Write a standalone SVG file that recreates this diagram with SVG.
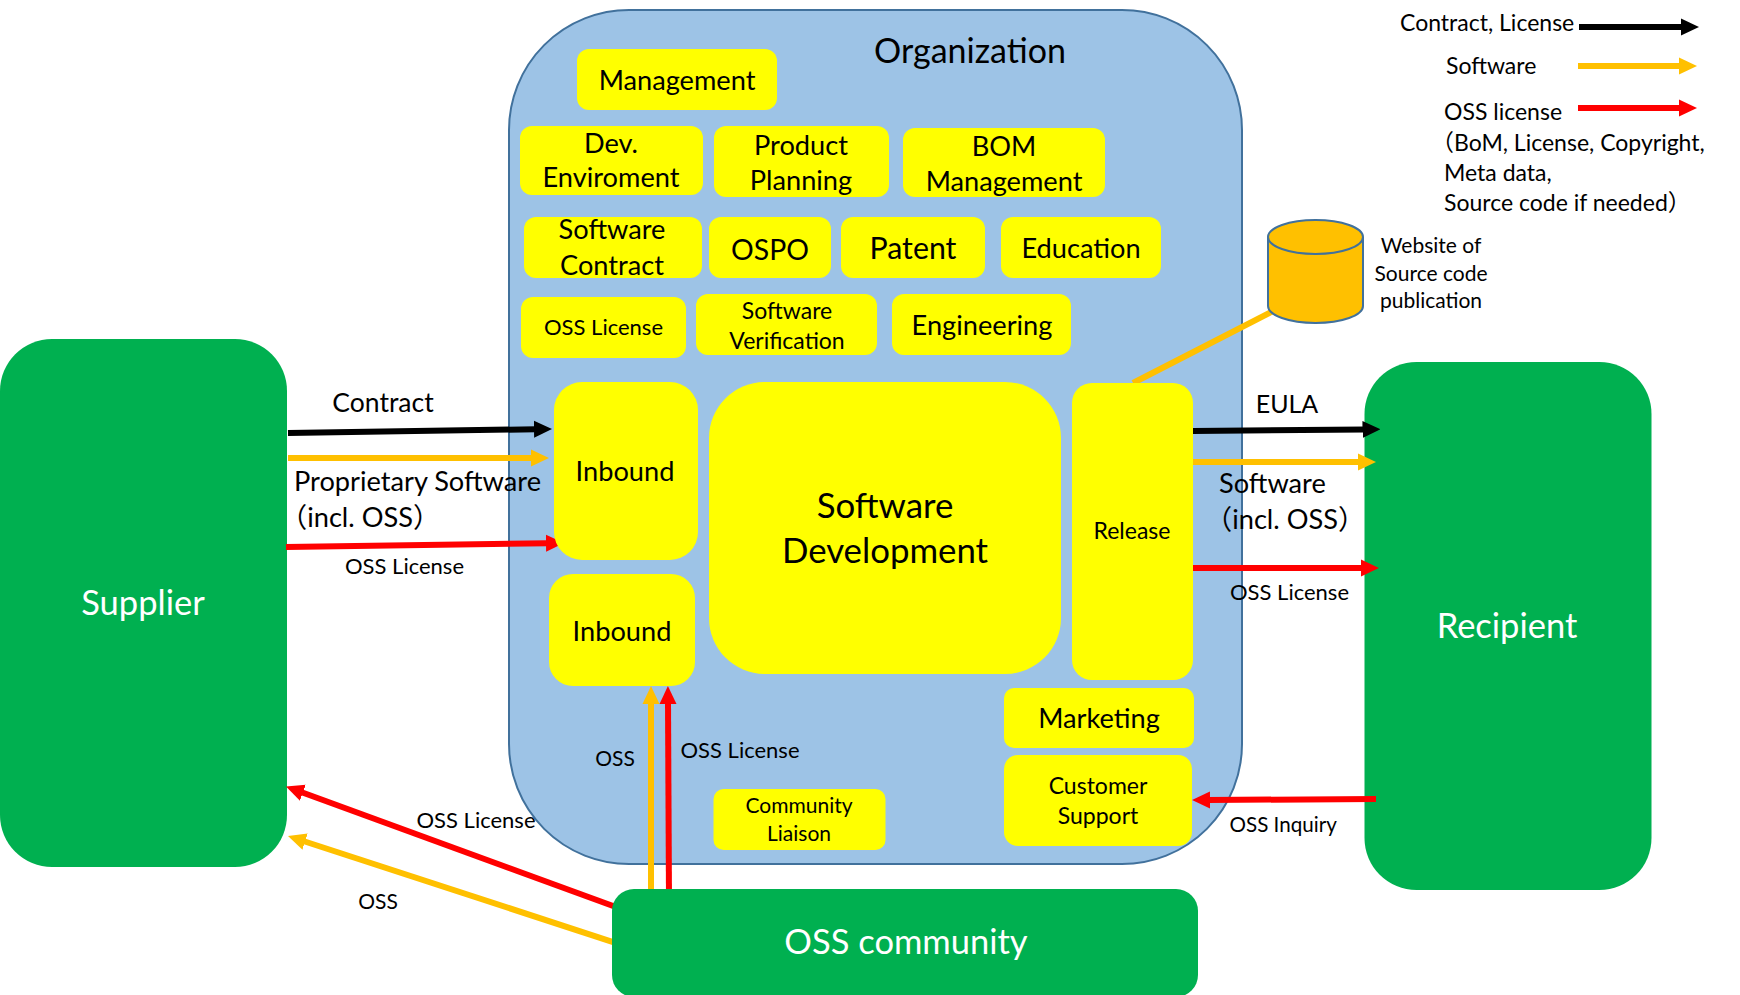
<svg xmlns="http://www.w3.org/2000/svg" width="1740" height="995" viewBox="0 0 1740 995">
<style>
text{font-family:"Lato","Noto Sans CJK JP",sans-serif;fill:#000;text-anchor:middle}
.s{text-anchor:start}
.w{fill:#fff;font-size:34.5px}
.f20{font-size:20.6px}.f21{font-size:21px}.f22{font-size:22px}.f23{font-size:23px}.f25{font-size:25px}.f26{font-size:26.5px}.f27{font-size:27.2px}.f28{font-size:28.4px}.f30{font-size:30.3px}.f34{font-size:34px}.f35{font-size:34.8px}
.y{fill:#FFFF00}.g{fill:#00B050}
.c{fill:none;stroke-width:6}
.k{stroke:#000}.o{stroke:#FFC000}.r{stroke:#F00}
</style>
<defs>
<marker id="hk" markerUnits="userSpaceOnUse" markerWidth="18" markerHeight="18" viewBox="0 -9 18 18" refX="2" refY="0" orient="auto"><path d="M0,-8.5L18,0L0,8.5Z" fill="#000"/></marker>
<marker id="ho" markerUnits="userSpaceOnUse" markerWidth="18" markerHeight="18" viewBox="0 -9 18 18" refX="2" refY="0" orient="auto"><path d="M0,-8.5L18,0L0,8.5Z" fill="#FFC000"/></marker>
<marker id="hr" markerUnits="userSpaceOnUse" markerWidth="18" markerHeight="18" viewBox="0 -9 18 18" refX="2" refY="0" orient="auto"><path d="M0,-8.5L18,0L0,8.5Z" fill="#F00"/></marker>
</defs>
<g id="organization">
<rect x="509" y="10" width="733" height="854" rx="120" ry="120" fill="#9DC3E6" stroke="#41719C" stroke-width="2"/>
<text x="970" y="63" class="f34">Organization</text>
</g>
<g id="supplier"><rect class="g" x="0" y="339" width="287" height="528" rx="52"/><text class="w" x="143" y="615">Supplier</text></g>
<g id="recipient"><rect class="g" x="1364.5" y="362" width="287" height="528" rx="52"/><text class="w" x="1507" y="638">Recipient</text></g>
<g id="connectors">
<line class="c o" x1="1133" y1="383" x2="1280" y2="307.4"/>
<line class="c k" x1="288" y1="433" x2="536" y2="429.2" marker-end="url(#hk)"/>
<line class="c o" x1="288" y1="458" x2="533" y2="458" marker-end="url(#ho)"/>
<line class="c r" x1="286" y1="547" x2="548" y2="543.2" marker-end="url(#hr)"/>
<line class="c k" x1="1193" y1="431" x2="1364.5" y2="429.5" marker-end="url(#hk)"/>
<line class="c o" x1="1193" y1="462" x2="1360" y2="462" marker-end="url(#ho)"/>
<line class="c r" x1="1193" y1="568" x2="1363" y2="568" marker-end="url(#hr)"/>
<line class="c r" x1="1376" y1="799" x2="1208" y2="800" marker-end="url(#hr)"/>
<line class="c o" x1="651" y1="900" x2="651" y2="702" marker-end="url(#ho)"/>
<line class="c r" x1="669" y1="900" x2="668" y2="702" marker-end="url(#hr)"/>
<line class="c r" x1="620" y1="908.5" x2="301" y2="792" marker-end="url(#hr)"/>
<line class="c o" x1="620" y1="944.3" x2="303.2" y2="841" marker-end="url(#ho)"/>
</g>
<g id="oss-community"><rect class="g" x="612" y="889" width="586" height="108" rx="22"/><text class="w" x="906" y="954">OSS community</text></g>
<g id="management"><rect class="y" x="577" y="49" width="200" height="61" rx="12"/><text class="f27" x="677" y="90">Management</text></g>
<g id="dev-enviroment"><rect class="y" x="520" y="126" width="183" height="69" rx="12"/><text class="f27"><tspan x="611" y="153">Dev.</tspan><tspan x="611" y="187">Enviroment</tspan></text></g>
<g id="product-planning"><rect class="y" x="714" y="126" width="175" height="71" rx="12"/><text class="f27"><tspan x="801" y="155">Product</tspan><tspan x="801" y="190">Planning</tspan></text></g>
<g id="bom-management"><rect class="y" x="903" y="128" width="202" height="69" rx="12"/><text class="f27"><tspan x="1004" y="156">BOM</tspan><tspan x="1004" y="191">Management</tspan></text></g>
<g id="software-contract"><rect class="y" x="524" y="217" width="178" height="61" rx="12"/><text class="f27"><tspan x="612" y="239">Software</tspan><tspan x="612" y="275">Contract</tspan></text></g>
<g id="ospo"><rect class="y" x="709" y="217" width="122" height="61" rx="12"/><text class="f28" x="770" y="260">OSPO</text></g>
<g id="patent"><rect class="y" x="841" y="217" width="144" height="61" rx="12"/><text class="f30" x="913" y="259">Patent</text></g>
<g id="education"><rect class="y" x="1001" y="217" width="160" height="61" rx="12"/><text class="f27" x="1081" y="258">Education</text></g>
<g id="oss-license"><rect class="y" x="521" y="297" width="165" height="61" rx="12"/><text class="f22" x="603.5" y="335">OSS License</text></g>
<g id="software-verification"><rect class="y" x="696" y="294" width="181" height="61" rx="12"/><text class="f23"><tspan x="787" y="319">Software</tspan><tspan x="787" y="349">Verification</tspan></text></g>
<g id="engineering"><rect class="y" x="892" y="294" width="179" height="61" rx="12"/><text class="f27" x="982" y="335">Engineering</text></g>
<g id="inbound-1"><rect class="y" x="554" y="382" width="144" height="178" rx="28"/><text class="f27" x="625" y="481">Inbound</text></g>
<g id="inbound-2"><rect class="y" x="549" y="574" width="146" height="112" rx="24"/><text class="f27" x="622" y="641">Inbound</text></g>
<g id="software-development"><rect class="y" x="709" y="382" width="352" height="292" rx="56"/><text class="f35"><tspan x="885" y="518">Software</tspan><tspan x="885" y="563">Development</tspan></text></g>
<g id="release"><rect class="y" x="1072" y="383" width="121" height="297" rx="20"/><text class="f23" x="1132" y="539">Release</text></g>
<g id="marketing"><rect class="y" x="1004" y="688" width="190" height="60" rx="10"/><text class="f27" x="1099" y="728">Marketing</text></g>
<g id="customer-support"><rect class="y" x="1004" y="755" width="188" height="91" rx="14"/><text class="f23"><tspan x="1098" y="794">Customer</tspan><tspan x="1098" y="824">Support</tspan></text></g>
<g id="community-liaison"><rect class="y" x="713.5" y="789" width="172" height="61" rx="10"/><text class="f21"><tspan x="799" y="813">Community</tspan><tspan x="799" y="841">Liaison</tspan></text></g>
<g id="source-website">
<path d="M1268,237A47.5,17 0 0 1 1363,237V306A47.5,17 0 0 1 1268,306Z" fill="#FFC000" stroke="#41719C" stroke-width="2"/>
<path d="M1268,237A47.5,17 0 0 0 1363,237" fill="none" stroke="#41719C" stroke-width="2"/>
<text class="f21"><tspan x="1431" y="253">Website of</tspan><tspan x="1431" y="281">Source code</tspan><tspan x="1431" y="308">publication</tspan></text>
</g>
<g id="connector-labels">
<text class="f26" x="383" y="412">Contract</text>
<text class="f27 s" x="294" y="491">Proprietary Software</text>
<text class="f27 s" x="280" y="527">（incl. OSS）</text>
<text class="f22" x="404.5" y="574">OSS License</text>
<text class="f25" x="1287" y="413">EULA</text>
<text class="f27 s" x="1219" y="493">Software</text>
<text class="f27 s" x="1205" y="529">（incl. OSS）</text>
<text class="f22" x="1289.5" y="600">OSS License</text>
<text class="f20 s" x="1229.5" y="832">OSS Inquiry</text>
<text class="f21" x="615" y="766">OSS</text>
<text class="f22" x="740" y="758">OSS License</text>
<text class="f22" x="476" y="828">OSS License</text>
<text class="f21" x="378" y="909">OSS</text>
</g>
<g id="legend">
<line class="c k" x1="1579" y1="27" x2="1683" y2="27" marker-end="url(#hk)"/>
<line class="c o" x1="1578" y1="66" x2="1681" y2="66" marker-end="url(#ho)"/>
<line class="c r" x1="1578" y1="108" x2="1681" y2="108" marker-end="url(#hr)"/>
<text class="f23 s" x="1400" y="31">Contract, License</text>
<text class="f23 s" x="1446" y="74">Software</text>
<text class="f23 s" x="1444" y="120">OSS license</text>
<text class="f23 s"><tspan x="1431" y="151">（BoM, License, Copyright,</tspan><tspan x="1444" y="181">Meta data,</tspan><tspan x="1444" y="211">Source code if needed）</tspan></text>
</g>
</svg>
